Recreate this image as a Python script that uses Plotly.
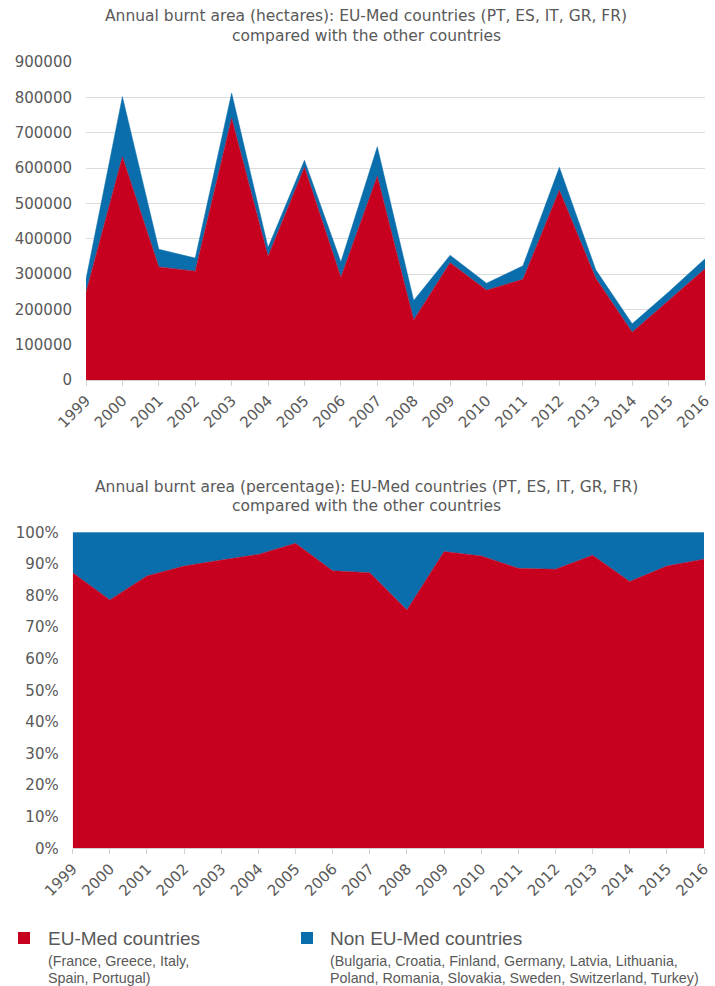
import plotly.graph_objects as go

years = list(range(1999, 2017))

# Annual burnt area (hectares)
eu_med_ha = [248000, 632000, 320000, 308000, 741000, 350000, 602000, 291000, 577000,
             170000, 332000, 254000, 285000, 537000, 288000, 135000, 225000, 315000]
non_eu_med_ha = [37000, 170000, 50000, 37000, 71000, 25000, 20000, 43000, 83000,
                 55000, 21000, 20000, 38000, 65000, 24000, 24000, 24000, 28000]

# Annual burnt area (percentage)
eu_med_pct = [87.2, 78.6, 86.2, 89.3, 91.2, 93.0, 96.5, 87.8, 87.2,
              75.4, 93.9, 92.5, 88.6, 88.3, 92.7, 84.4, 89.3, 91.5]
non_eu_med_pct = [12.8, 21.4, 13.8, 10.7, 8.8, 7.0, 3.5, 12.2, 12.8,
                  24.6, 6.1, 7.5, 11.4, 11.7, 7.3, 15.6, 10.7, 8.5]

RED = "#C8001F"
BLUE = "#0A6EAC"
GRAY = "#595959"
W, H = 715, 986

def py(p):
    return 1 - p / H

def px(p):
    return p / W

fig = go.Figure()

fig.add_trace(go.Scatter(x=years, y=eu_med_ha, stackgroup="a", mode="lines",
                         line=dict(width=0.5, color=RED), fillcolor=RED,
                         xaxis="x", yaxis="y", name="EU-Med countries"))
fig.add_trace(go.Scatter(x=years, y=non_eu_med_ha, stackgroup="a", mode="lines",
                         line=dict(width=0.5, color=BLUE), fillcolor=BLUE,
                         xaxis="x", yaxis="y", name="Non EU-Med countries"))

fig.add_trace(go.Scatter(x=years, y=eu_med_pct, stackgroup="b", mode="lines",
                         line=dict(width=0.5, color=RED), fillcolor=RED,
                         xaxis="x2", yaxis="y2", name="EU-Med countries"))
fig.add_trace(go.Scatter(x=years, y=non_eu_med_pct, stackgroup="b", mode="lines",
                         line=dict(width=0.5, color=BLUE), fillcolor=BLUE,
                         xaxis="x2", yaxis="y2", name="Non EU-Med countries"))

tickfont = dict(family="DejaVu Sans", size=15, color=GRAY)
xcommon = dict(range=[1999, 2016], tickvals=years, ticktext=[str(y) for y in years],
               tickangle=-45, ticks="outside", ticklen=5, tickcolor="#d0d0d0",
               showline=True, linecolor="#d0d0d0", linewidth=1, showgrid=False,
               zeroline=False, tickfont=tickfont, automargin=False, fixedrange=True)

fig.update_layout(
    width=W, height=H,
    margin=dict(l=0, r=0, t=0, b=0),
    paper_bgcolor="white", plot_bgcolor="white",
    showlegend=False,
    xaxis=dict(domain=[px(86), px(705)], anchor="y", **xcommon),
    yaxis=dict(domain=[py(380), py(62)], anchor="x", range=[0, 900000], dtick=100000,
               tickformat="d", showgrid=True, gridcolor="#dcdcdc", gridwidth=1,
               zeroline=False, showline=False, ticks="", tickfont=tickfont,
               ticklabelstandoff=13, automargin=False, fixedrange=True),
    xaxis2=dict(domain=[px(72.7), px(704)], anchor="y2", **xcommon),
    yaxis2=dict(domain=[py(848.3), py(532.3)], anchor="x2", range=[0, 100], dtick=10,
                ticksuffix="%", showgrid=True, gridcolor="#dcdcdc", gridwidth=1,
                zeroline=False, showline=False, ticks="", tickfont=tickfont,
                ticklabelstandoff=13, automargin=False, fixedrange=True),
)

title_font = dict(family="DejaVu Sans", size=15.5, color=GRAY)
titles = [
    ("Annual burnt area (hectares): EU-Med countries (PT, ES, IT, GR, FR)", 16),
    ("compared with the other countries", 36),
    ("Annual burnt area (percentage): EU-Med countries (PT, ES, IT, GR, FR)", 487),
    ("compared with the other countries", 506),
]
for text, yc in titles:
    fig.add_annotation(text=text, x=px(366), y=py(yc), xref="paper", yref="paper",
                       xanchor="center", yanchor="middle", showarrow=False,
                       font=title_font)

# Custom legend
leg_font = dict(family="Liberation Sans", size=19, color=GRAY)
sub_font = dict(family="Liberation Sans", size=14.3, color=GRAY)
fig.add_shape(type="rect", xref="paper", yref="paper",
              x0=px(18), x1=px(30), y0=py(944), y1=py(932),
              fillcolor=RED, line=dict(width=0))
fig.add_shape(type="rect", xref="paper", yref="paper",
              x0=px(301), x1=px(313), y0=py(944), y1=py(932),
              fillcolor=BLUE, line=dict(width=0))
legend_texts = [
    ("EU-Med countries", 46, 938, leg_font),
    ("(France, Greece, Italy,", 46, 961, sub_font),
    ("Spain, Portugal)", 46, 978, sub_font),
    ("Non EU-Med countries", 328, 938, leg_font),
    ("(Bulgaria, Croatia, Finland, Germany, Latvia, Lithuania,", 328, 961, sub_font),
    ("Poland, Romania, Slovakia, Sweden, Switzerland, Turkey)", 328, 978, sub_font),
]
for text, xl, yc, f in legend_texts:
    fig.add_annotation(text=text, x=px(xl), y=py(yc), xref="paper", yref="paper",
                       xanchor="left", yanchor="middle", showarrow=False, font=f)

fig.write_html("out.html",
               config={"displayModeBar": False},
               post_script="document.body.style.margin='0';document.body.style.overflow='hidden';")
